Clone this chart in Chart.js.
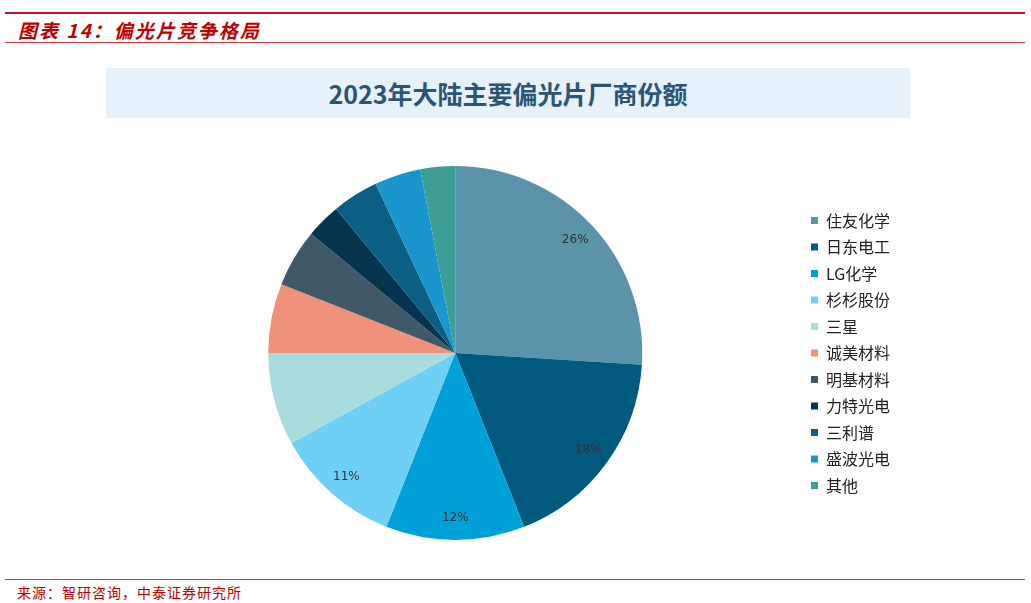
<!DOCTYPE html>
<html>
<head>
<meta charset="utf-8">
<script src="https://cdn.jsdelivr.net/npm/chart.js@4.4.0/dist/chart.umd.min.js"></script>
<style>
  body { margin: 0; width: 1031px; height: 603px; background: #fff; position: relative; overflow: hidden; font-family: "Noto Sans CJK SC", sans-serif; }
  .line-top { position: absolute; left: 5px; top: 12px; width: 1020px; height: 2px; background: #c8102e; }
  .fig-title { position: absolute; left: 18px; top: 16px; font-size: 19px; font-weight: bold; font-style: italic; color: #c00000; letter-spacing: 2px; }
  .line-sub { position: absolute; left: 5px; top: 42px; width: 1020px; height: 1px; background: #d23a3a; }
  .chart-head { position: absolute; left: 106px; top: 68px; width: 804px; height: 50px; background: #e6f1f9; text-align: center; line-height: 50px; font-size: 25px; font-weight: bold; color: #2b5576; }
  .line-foot { position: absolute; left: 5px; top: 579px; width: 1020px; height: 1px; background: #d23a3a; }
  .source { position: absolute; left: 17px; top: 582px; font-size: 14px; color: #c00000; letter-spacing: 1px; }
  #box { position: absolute; left: 110px; top: 166px; width: 790px; height: 374px; }
</style>
</head>
<body>
<div class="line-top"></div>
<div class="fig-title">图表 14：偏光片竞争格局</div>
<div class="line-sub"></div>
<div class="chart-head">2023年大陆主要偏光片厂商份额</div>
<div id="box"><canvas id="chartPie"></canvas></div>
<div class="line-foot"></div>
<div class="source">来源：智研咨询，中泰证券研究所</div>

<script>
// --- dados ---
const categorias = ['住友化学', '日东电工', 'LG化学', '杉杉股份', '三星', '诚美材料', '明基材料', '力特光电', '三利谱', '盛波光电', '其他'];
const valores = [26, 18, 12, 11, 8, 6, 5, 3, 4, 4, 3];
const cores = ['#5b93ab', '#005a7e', '#00a0d8', '#6fd0f5', '#a9dcdc', '#f0917a', '#3f5968', '#06334d', '#0b5f82', '#1a96cf', '#3d9e95'];

// rótulos de porcentagem só nas fatias grandes
const rotulos = {
  id: 'rotulos',
  afterDatasetsDraw(chart) {
    const ctx = chart.ctx;
    const meta = chart.getDatasetMeta(0);
    ctx.save();
    ctx.font = '12px "DejaVu Sans", sans-serif';
    ctx.fillStyle = '#333';
    ctx.textAlign = 'center';
    ctx.textBaseline = 'middle';
    meta.data.forEach((arc, i) => {
      if (valores[i] < 10) return;
      const meio = (arc.startAngle + arc.endAngle) / 2;
      const r = arc.outerRadius * 0.88;
      ctx.fillText(valores[i] + '%', arc.x + Math.cos(meio) * r, arc.y + Math.sin(meio) * r);
    });
    ctx.restore();
  }
};

let ctx = document.getElementById('chartPie');

let meuPie = new Chart(ctx, {
  type: 'pie',
  data: {
    labels: categorias,
    datasets: [{
      data: valores,
      backgroundColor: cores,
      borderWidth: 0
    }]
  },
  options: {
    responsive: true,
    maintainAspectRatio: false,
    animation: false,
    layout: { padding: 0 },
    plugins: {
      tooltip: { enabled: false },
      legend: {
        position: 'right',
        labels: {
          boxWidth: 7,
          boxHeight: 7,
          padding: 10.5,
          color: '#222',
          font: { size: 16, family: '"Noto Sans CJK SC", sans-serif' }
        }
      }
    }
  },
  plugins: [rotulos]
});
</script>
</body>
</html>
